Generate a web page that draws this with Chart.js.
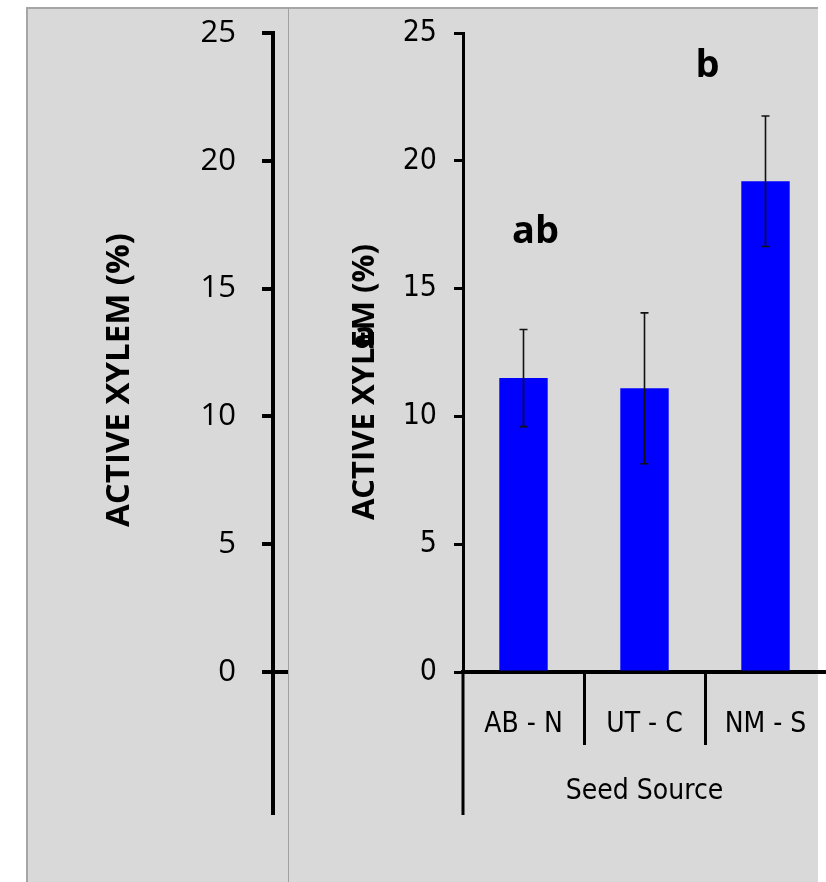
<!DOCTYPE html>
<html>
<head>
<meta charset="utf-8">
<script src="https://cdn.jsdelivr.net/npm/chart.js@4/dist/chart.umd.min.js"></script>
<style>
  html, body { margin: 0; padding: 0; background: #ffffff; }
  #wrap { position: relative; width: 826px; height: 882px; overflow: hidden; }
  .panel { position: absolute; background: #d9d9d9; box-sizing: border-box; }
  #panelA { left: 26px; top: 7px; width: 262px; height: 875px; border-left: 2px solid #a6a6a6; border-top: 2px solid #a6a6a6; }
  #panelB { left: 288px; top: 7px; width: 530px; height: 875px; border-left: 1px solid #a0a0a0; border-top: 2px solid #a6a6a6; }
  canvas { position: absolute; top: 0; }
  #axisChart { left: 26px; }
  #barChart { left: 288px; }
</style>
</head>
<body>
<div id="wrap">
  <div class="panel" id="panelA"></div>
  <div class="panel" id="panelB"></div>
  <canvas id="axisChart" width="262" height="882"></canvas>
  <canvas id="barChart" width="538" height="882"></canvas>
</div>
<script>
// Seed sources and mean percent active xylem with standard errors
const categories = ['AB - N', 'UT - C', 'NM - S'];
const activeXylem = [11.5, 11.1, 19.2];
const standardError = [1.9, 2.95, 2.55];
const yMin = 0;
const yMax = 25;
const yStep = 5;
const yTitle = 'ACTIVE XYLEM (%)';
const xTitle = 'Seed Source';
// significance letters
const groupLetters = ['a', 'ab', 'b'];

// where the letters sit: x in category units, y in axis units
const letterPlacement = [
  { x: -1.31, y: 13.1 },
  { x: 0.10, y: 17.2 },
  { x: 1.52, y: 23.7 }
];

const narrowFont = '"Liberation Sans Narrow", "DejaVu Sans Condensed", "Arial Narrow", sans-serif';
const boldFont = '"Open Sans", "DejaVu Sans", sans-serif';

function drawRotatedTitle(ctx, text, x, y, size) {
  ctx.save();
  ctx.translate(x, y);
  ctx.rotate(-Math.PI / 2);
  ctx.font = 'bold ' + size + 'px ' + boldFont;
  ctx.fillStyle = '#000';
  ctx.textAlign = 'center';
  ctx.textBaseline = 'middle';
  ctx.fillText(text, 0, 0);
  ctx.restore();
}

// Left panel: the value axis alone, drawn larger
const axisExtras = {
  id: 'axisExtras',
  afterDraw(chart) {
    const ctx = chart.ctx;
    const y = chart.scales.y;
    const area = chart.chartArea;
    ctx.save();
    ctx.strokeStyle = '#000';
    ctx.lineWidth = 4;
    ctx.beginPath();
    ctx.moveTo(y.right, area.bottom);
    ctx.lineTo(y.right, 815);
    ctx.stroke();
    ctx.restore();
    drawRotatedTitle(ctx, yTitle, area.left - 153, 380, 33);
  }
};

new Chart(document.getElementById('axisChart'), {
  type: 'bar',
  data: { labels: [''], datasets: [] },
  options: {
    responsive: false,
    animation: false,
    layout: { padding: { top: 33, left: 0, right: 0, bottom: 0 } },
    plugins: { legend: { display: false }, tooltip: { enabled: false } },
    scales: {
      x: {
        ticks: { display: false },
        grid: { display: false },
        border: { display: true, color: '#000', width: 4 },
        afterFit(scale) { scale.height = 210; }
      },
      y: {
        min: yMin, max: yMax,
        ticks: { stepSize: yStep, color: '#000', padding: 26, font: { family: '"Open Sans", sans-serif', size: 31 } },
        grid: { drawOnChartArea: false, drawTicks: true, tickLength: 11, lineWidth: 4, tickWidth: 4, tickColor: '#000', color: '#000' },
        border: { display: true, color: '#000', width: 4 },
        afterFit(scale) { scale.width = 247; scale.paddingTop = 10; scale.paddingBottom = 10; }
      }
    }
  },
  plugins: [axisExtras]
});

// Right panel: bar chart with error bars
const barExtras = {
  id: 'barExtras',
  afterDatasetsDraw(chart) {
    const ctx = chart.ctx;
    const meta = chart.getDatasetMeta(0);
    const y = chart.scales.y;
    ctx.save();
    ctx.strokeStyle = '#111';
    ctx.lineWidth = 1.6;
    meta.data.forEach((bar, i) => {
      const v = activeXylem[i];
      const e = standardError[i];
      const top = y.getPixelForValue(v + e);
      const bot = y.getPixelForValue(v - e);
      ctx.beginPath();
      ctx.moveTo(bar.x, top); ctx.lineTo(bar.x, bot);
      ctx.moveTo(bar.x - 4, top); ctx.lineTo(bar.x + 4, top);
      ctx.moveTo(bar.x - 4, bot); ctx.lineTo(bar.x + 4, bot);
      ctx.stroke();
    });
    ctx.restore();
  },
  afterDraw(chart) {
    const ctx = chart.ctx;
    const x = chart.scales.x;
    const y = chart.scales.y;
    const area = chart.chartArea;
    ctx.save();
    ctx.strokeStyle = '#000';
    ctx.lineWidth = 3;
    ctx.beginPath();
    ctx.moveTo(y.right, area.bottom);
    ctx.lineTo(y.right, 815);
    for (let i = 0; i < categories.length - 1; i++) {
      const bx = Math.round((x.getPixelForValue(i) + x.getPixelForValue(i + 1)) / 2) + 0.5;
      ctx.moveTo(bx, area.bottom);
      ctx.lineTo(bx, 745);
    }
    ctx.stroke();

    ctx.fillStyle = '#000';
    ctx.font = 'bold 38px ' + boldFont;
    ctx.textAlign = 'center';
    ctx.textBaseline = 'middle';
    groupLetters.forEach((t, i) => {
      const p = letterPlacement[i];
      ctx.fillText(t, x.getPixelForValue(p.x), y.getPixelForValue(p.y));
    });
    ctx.restore();
    drawRotatedTitle(ctx, yTitle, area.left - 98, 382, 31);
  }
};

new Chart(document.getElementById('barChart'), {
  type: 'bar',
  data: {
    labels: categories,
    datasets: [{
      data: activeXylem,
      backgroundColor: '#0000ff',
      borderWidth: 0,
      barPercentage: 0.4,
      categoryPercentage: 1.0
    }]
  },
  options: {
    responsive: false,
    animation: false,
    layout: { padding: { top: 33, left: 0, right: 0, bottom: 0 } },
    plugins: { legend: { display: false }, tooltip: { enabled: false } },
    scales: {
      x: {
        offset: true,
        ticks: { color: '#000', padding: 0, font: { family: narrowFont, size: 28 } },
        grid: { display: true, drawOnChartArea: false, drawTicks: true, tickLength: 36, tickColor: 'rgba(0,0,0,0)' },
        border: { display: true, color: '#000', width: 4 },
        title: { display: true, text: xTitle, color: '#000', font: { family: narrowFont, size: 28 }, padding: { top: 0, bottom: 73 } },
        afterFit(scale) { scale.height = 210; }
      },
      y: {
        min: yMin, max: yMax,
        ticks: { stepSize: yStep, color: '#000', padding: 17, font: { family: narrowFont, size: 30 } },
        grid: { drawOnChartArea: false, drawTicks: true, tickLength: 9, lineWidth: 3, tickWidth: 3, tickColor: '#000', color: '#000' },
        border: { display: true, color: '#000', width: 3 },
        afterFit(scale) { scale.width = 175; scale.paddingTop = 10; scale.paddingBottom = 10; }
      }
    }
  },
  plugins: [barExtras]
});
</script>
</body>
</html>
